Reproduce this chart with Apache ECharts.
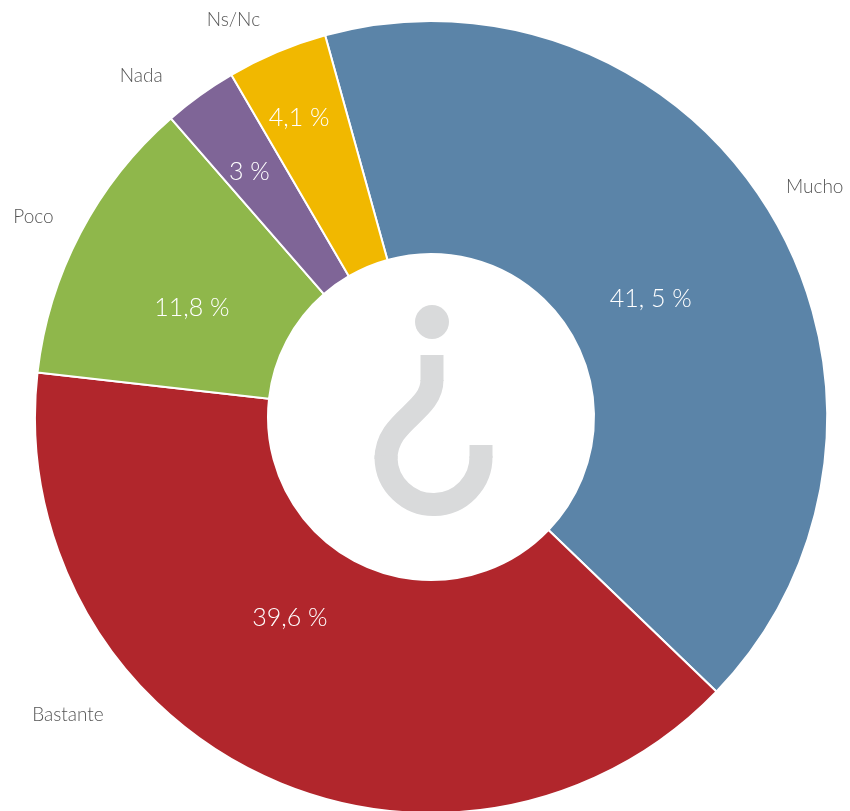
<!DOCTYPE html>
<html>
<head>
<meta charset="utf-8">
<script src="https://cdn.jsdelivr.net/npm/echarts@6/dist/echarts.min.js"></script>
<style>
  html, body { margin: 0; padding: 0; background: #fff; }
  #chart { width: 850px; height: 811px; }
</style>
</head>
<body>
<div id="chart"></div>
<script>
// categorias y valores (%)
var categories = ['Mucho', 'Bastante', 'Poco', 'Nada', 'Ns/Nc'];
var values = [41.5, 39.6, 11.8, 3, 4.1];
var pctLabels = ['41, 5 %', '39,6 %', '11,8 %', '3 %', '4,1 %'];
var colors = ['#5b84a8', '#b1262c', '#8fb74b', '#7f6597', '#f1b800'];

var myChart = echarts.init(document.getElementById('chart'));

var mainData = [];
var outerData = [];
for (var i = 0; i < categories.length; i++) {
  mainData.push({ name: categories[i], value: values[i], itemStyle: { color: colors[i] } });
  outerData.push({ name: categories[i], value: values[i] });
}

// pequeños ajustes de posicion de etiquetas (como en el original)
var innerShift = [[-23, 27], [-21, -55], [11, 22], [-17, -16], [-22, -39]];
var outerShift = [[-2, 0], [-172, -108], [0, 9], [-28, 24], [-23, 17]];

// signo ¿ del centro
var qStyle = { fill: 'none', stroke: '#d9dadb', lineWidth: 23, lineCap: 'butt' };

myChart.setOption({
  animation: false,
  textStyle: { fontFamily: 'Lato, "Open Sans", sans-serif' },
  graphic: [
    {
      type: 'circle',
      shape: { cx: 432, cy: 322, r: 17 },
      style: { fill: '#d9dadb' },
      silent: true
    },
    {
      type: 'line',
      shape: { x1: 432, y1: 355, x2: 432, y2: 381 },
      style: qStyle,
      silent: true
    },
    {
      type: 'bezierCurve',
      shape: { x1: 432, y1: 380, cpx1: 432, cpy1: 412, cpx2: 386, cpy2: 420, x2: 386, y2: 459 },
      style: qStyle,
      silent: true
    },
    {
      type: 'arc',
      shape: { cx: 433.5, cy: 457, r: 47.5, startAngle: -0.02, endAngle: Math.PI + 0.03, clockwise: true },
      style: qStyle,
      silent: true
    },
    {
      type: 'line',
      shape: { x1: 481, y1: 445, x2: 481, y2: 458 },
      style: qStyle,
      silent: true
    }
  ],
  series: [
    {
      name: 'main',
      type: 'pie',
      center: [431, 417],
      radius: [163, 396],
      startAngle: 105.5,
      clockwise: true,
      silent: true,
      itemStyle: { borderColor: '#fff', borderWidth: 2 },
      label: {
        show: true,
        position: 'inside',
        color: '#fff',
        fontSize: 25,
        fontWeight: 300,
        formatter: function (p) { return pctLabels[p.dataIndex]; }
      },
      labelLine: { show: false },
      labelLayout: function (p) {
        return { dx: innerShift[p.dataIndex][0], dy: innerShift[p.dataIndex][1] };
      },
      data: mainData
    },
    {
      name: 'names',
      type: 'pie',
      center: [431, 417],
      radius: [440, 452],
      startAngle: 105.5,
      clockwise: true,
      silent: true,
      itemStyle: { color: 'transparent', borderWidth: 0 },
      label: {
        show: true,
        position: 'inside',
        color: '#555',
        fontSize: 19,
        fontWeight: 300
      },
      labelLine: { show: false },
      labelLayout: function (p) {
        return { dx: outerShift[p.dataIndex][0], dy: outerShift[p.dataIndex][1] };
      },
      data: outerData
    }
  ]
});
</script>
</body>
</html>
